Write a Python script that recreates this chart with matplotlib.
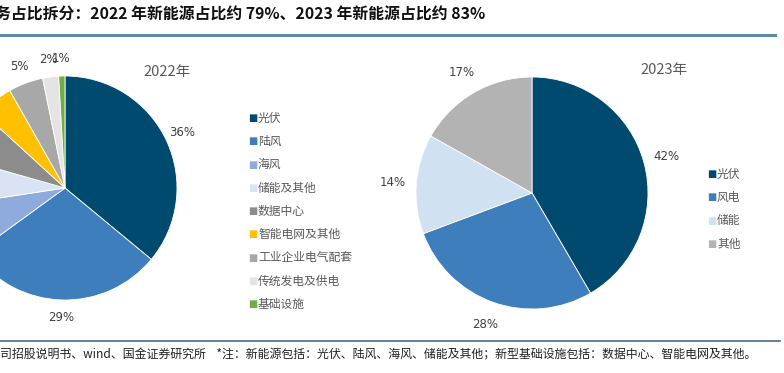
"""Pie charts of revenue split by segment, 2022 vs 2023."""

import matplotlib
matplotlib.use("Agg")
from matplotlib import pyplot as plt

plt.rcParams['font.family'] = ['Noto Sans CJK SC', 'DejaVu Sans']

# 2022 segments
labels_2022 = ['光伏', '陆风', '海风', '储能及其他', '数据中心', '智能电网及其他',
               '工业企业电气配套', '传统发电及供电', '基础设施']
values_2022 = [36, 29, 7.6, 6.8, 7.4, 5.0, 5.0, 2.3, 0.9]
colors_2022 = ['#004a6f', '#3f7ebd', '#8faadc', '#dae3f3', '#8c8c8c', '#ffc000',
               '#a8a8a8', '#e4e4e4', '#70ad47']

# 2023 segments
labels_2023 = ['光伏', '风电', '储能', '其他']
values_2023 = [42, 28, 14, 17]
colors_2023 = ['#004a6f', '#3f7ebd', '#d0e1f2', '#b3b3b3']

title = '务占比拆分：2022 年新能源占比约 79%、2023 年新能源占比约 83%'
footer = ('司招股说明书、wind、国金证券研究所    *注：新能源包括：光伏、陆风、海风、'
          '储能及其他；新型基础设施包括：数据中心、智能电网及其他。')

W, H = 784, 373
fig = plt.figure(figsize=(W / 100, H / 100), dpi=100)


def pie_axes(cx, cy, r, lim=1.4):
    """Axes whose unit circle is centered at pixel (cx, cy from top) with radius r px."""
    half = lim * r
    ax = fig.add_axes([(cx - half) / W, (H - cy - half) / H, 2 * half / W, 2 * half / H])
    ax.axis('off')
    return ax, lim


def draw_pie(ax, lim, values, colors, pctdistance=1.2):
    wedges, _, autotexts = ax.pie(
        values, colors=colors, startangle=90, counterclock=False,
        autopct='%.0f%%', pctdistance=pctdistance,
        wedgeprops=dict(edgecolor='white', linewidth=0.6))
    # pie() resets the limits, so set them afterwards
    ax.set_xlim(-lim, lim)
    ax.set_ylim(-lim, lim)
    ax.set_aspect('equal')
    for t in autotexts:
        t.set_fontsize(8.5)
        t.set_color('#404040')
        t.set_fontfamily('DejaVu Sans')
    return wedges


def draw_legend(x, y0, step, labels, colors):
    for i, (lab, col) in enumerate(zip(labels, colors)):
        y = 1 - (y0 + i * step) / H
        fig.text(x / W, y, '■', color=col, fontsize=7, va='center', ha='left',
                 family=['DejaVu Sans'])
        fig.text((x + 10) / W, y, lab, color='#595959', fontsize=8.5,
                 va='center', ha='left')


ax1, lim1 = pie_axes(65, 188, 112)
draw_pie(ax1, lim1, values_2022, colors_2022, pctdistance=1.16)
ax2, lim2 = pie_axes(532, 193, 116)
draw_pie(ax2, lim2, values_2023, colors_2023)

fig.text(167 / W, 1 - 72 / H, '2022年', color='#595959', fontsize=10.5,
         ha='center', va='center')
fig.text(664 / W, 1 - 70 / H, '2023年', color='#595959', fontsize=10.5,
         ha='center', va='center')

draw_legend(248, 118, 23.3, labels_2022, colors_2022)
draw_legend(707, 174, 23.3, labels_2023, colors_2023)

# title and footer
fig.text(-5 / W, 1 - 15 / H, title, fontsize=11.4, fontweight='bold',
         style='italic', color='#111111', va='center', ha='left')
fig.add_artist(plt.Line2D([0, 775 / W], [1 - 35 / H, 1 - 35 / H],
                          color='#5b8ba6', linewidth=2.2))
fig.add_artist(plt.Line2D([0, 780 / W], [1 - 341 / H, 1 - 341 / H],
                          color='#3f6f8f', linewidth=1.2))
fig.text(0, 1 - 355 / H, footer, fontsize=8.6, color='#222222',
         va='center', ha='left')

fig.savefig('out.png', dpi=100)
